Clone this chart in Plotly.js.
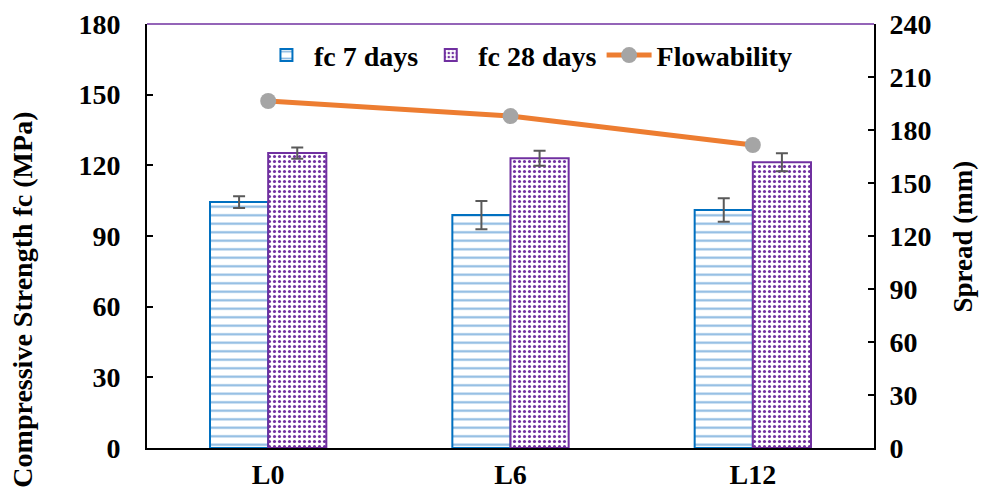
<!DOCTYPE html>
<html>
<head>
<meta charset="utf-8">
<script src="https://cdn.plot.ly/plotly-3.0.1.min.js"></script>
<style>html,body{margin:0;padding:0;background:#fff;}#chart{width:981px;height:494px;}</style>
</head>
<body>
<div id="chart"></div>
<script>
const categories = ["L0", "L6", "L12"];
const fc7 = [104.4, 98.9, 101.0];
const fc7Err = [2.5, 6.0, 5.0];
const fc28 = [125.2, 123.0, 121.3];
const fc28Err = [2.4, 3.2, 3.8];
const flowability = [196.4, 187.9, 171.5];
const leftTicks = [0, 30, 60, 90, 120, 150, 180];
const rightTicks = [0, 30, 60, 90, 120, 150, 180, 210, 240];

const font = "Liberation Serif";
const fs = 28;

const traces = [
  {
    type: "bar", name: "fc 7 days", x: categories, y: fc7,
    error_y: {type: "data", array: fc7Err, color: "#595959", thickness: 2, width: 6},
    marker: {color: "#ffffff", line: {color: "#0070C0", width: 2},
      pattern: {shape: "-", fgcolor: "#5B9BD5", fgopacity: 0.7, bgcolor: "#ffffff", size: 8.5, solidity: 0.25}},
    yaxis: "y"
  },
  {
    type: "bar", name: "fc 28 days", x: categories, y: fc28,
    error_y: {type: "data", array: fc28Err, color: "#595959", thickness: 2, width: 6},
    marker: {color: "#ffffff", line: {color: "#7030A0", width: 2},
      pattern: {shape: ".", fgcolor: "#7030A0", bgcolor: "#ffffff", size: 5, solidity: 0.3}},
    yaxis: "y"
  },
  {
    type: "scatter", mode: "lines+markers", name: "Flowability", x: categories, y: flowability,
    line: {color: "#ED7D31", width: 5},
    marker: {color: "#A5A5A5", size: 16},
    yaxis: "y2"
  }
];

const layout = {
  width: 981, height: 494,
  margin: {l: 147, r: 107, t: 24, b: 46},
  paper_bgcolor: "#ffffff", plot_bgcolor: "#ffffff",
  font: {family: font, size: fs, color: "#000"},
  barmode: "group", bargap: 0.52, bargroupgap: 0,
  showlegend: true,
  legend: {orientation: "h", x: 0.524, xanchor: "center", y: 0.985, yanchor: "top",
    font: {family: font, size: fs, color: "#000", weight: "bold"}, bgcolor: "rgba(0,0,0,0)",
    itemwidth: 45, tracegroupgap: 0},
  xaxis: {
    showline: true, linecolor: "#000", linewidth: 2, ticks: "", showgrid: false,
    tickfont: {family: font, size: fs, weight: "bold"}, zeroline: false
  },
  yaxis: {
    range: [0, 180], tickvals: leftTicks, showgrid: false, zeroline: false,
    showline: true, linecolor: "#000", linewidth: 2, ticks: "inside", ticklen: 6, tickwidth: 1.5, tickcolor: "#000",
    tickfont: {family: font, size: fs, weight: "bold"}, ticklabelstandoff: 19
  },
  yaxis2: {
    range: [0, 240], tickvals: rightTicks, overlaying: "y", side: "right",
    showgrid: false, zeroline: false,
    showline: true, linecolor: "#000", linewidth: 2, ticks: "inside", ticklen: 6, tickwidth: 1.5, tickcolor: "#000",
    tickfont: {family: font, size: fs, weight: "bold"}, ticklabelstandoff: 8
  },
  annotations: [
    {text: "Compressive Strength fc (MPa)", xref: "paper", yref: "paper", x: -0.1705, y: 0.35,
      xanchor: "center", yanchor: "middle", textangle: -90, showarrow: false,
      font: {family: font, size: fs, weight: "bold", color: "#000"}},
    {text: "Spread (mm)", xref: "paper", yref: "paper", x: 1.123, y: 0.5,
      xanchor: "center", yanchor: "middle", textangle: -90, showarrow: false,
      font: {family: font, size: 27, weight: "bold", color: "#000"}}
  ],
  shapes: [{type: "line", xref: "paper", yref: "paper", x0: 0, x1: 1, y0: 1, y1: 1,
    line: {color: "#7030A0", width: 1.5}}]
};

Plotly.newPlot("chart", traces, layout, {displayModeBar: false, responsive: false});
</script>
</body>
</html>
